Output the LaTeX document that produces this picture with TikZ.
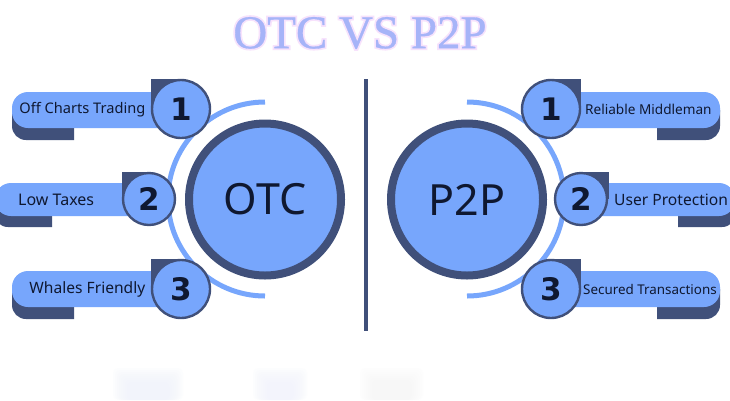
\documentclass[tikz,border=0pt]{standalone}
\usepackage{fontspec}
\setmainfont{Noto Sans}
\newfontfamily\titlefont[FakeBold=0.7]{Liberation Serif}
\newfontfamily\titleglow[FakeBold=8]{Liberation Serif}
\newfontfamily\numfont{DejaVu Sans Bold}
\definecolor{cblue}{HTML}{77A6FC}
\definecolor{cdark}{HTML}{40507A}
\definecolor{cink}{HTML}{0F1830}
\definecolor{ctitle}{HTML}{A6B4F8}
\definecolor{cglow}{HTML}{F7E2FC}
\definecolor{pa}{HTML}{F0F4FB}
\definecolor{pb}{HTML}{F2F4FC}
\definecolor{pc}{HTML}{F7F7F7}
\tikzset{
  x=1pt,y=-1pt,
  bigdisc/.style={circle,draw=cdark,line width=8pt,fill=cblue,minimum size=152pt,inner sep=0pt,text=cink,font=\fontsize{43}{43}\selectfont},
  badgeL/.style={circle,draw=cdark,line width=2.4pt,fill=cblue,minimum size=58pt,inner sep=0pt,text=cink,font=\numfont\fontsize{31}{31}\selectfont},
  badgeS/.style={badgeL,minimum size=52pt},
  lab/.style={text=cink,inner sep=0pt},
  sweep/.style={draw=cblue,line width=5pt},
  barfill/.style={fill=cblue},
  shadowfill/.style={fill=cdark},
  rc/.style={rounded corners=16pt}
}
\begin{document}
\begin{tikzpicture}
\useasboundingbox (0,0) rectangle (730,400);
\fill[white] (0,0) rectangle (730,400);
% faint blurred patches
\foreach \a/\b/\c in {113/183/pa,253/307/pb,360/423/pc}{
  \foreach \i in {0,2,...,14}{
    \fill[color=\c,opacity=0.16,rounded corners=5pt] (\a+\i,368+\i) rectangle (\b-\i,400);
  }
}
% title
\node[text=cglow,font=\titleglow\fontsize{47}{47}\selectfont,inner sep=0pt] (tglow) at (360,33) {OTC VS P2P};
\node[text=ctitle,font=\titlefont\fontsize{47}{47}\selectfont,inner sep=0pt] (title) at (360,33) {OTC VS P2P};
% divider
\fill[cdark] (364,79) rectangle (368,331);
% sweeps
\draw[sweep] (265,102) arc[start angle=90,end angle=270,radius=97pt];
\draw[sweep] (467,102) arc[start angle=90,end angle=-90,radius=97pt];
% discs
\node[bigdisc] (otc) at (265,199.5) {OTC};
\node[bigdisc] (p2p) at (467,199.5) {P2P};
% left items
\fill[shadowfill] (74,110) -- (12,110) [rounded corners=14pt] -- (12,140) [sharp corners] -- (74,140) -- cycle;
\fill[barfill,rc] (181,92) -- (12,92) -- (12,128) -- (181,128);
\fill[cdark] (151,79) rectangle (181,109);
\node[badgeL] (l1) at (181,109) {1};
\node[lab,anchor=east,font=\fontsize{14.6}{15}\selectfont] (l1t) at (145.5,110) {Off Charts Trading};

\fill[shadowfill] (52,200) -- (-6,200) [rounded corners=14pt] -- (-6,227) [sharp corners] -- (52,227) -- cycle;
\fill[barfill,rc] (149,183) -- (-5,183) -- (-5,216) -- (149,216);
\fill[cdark] (122,172) rectangle (149,199);
\node[badgeS] (l2) at (149,199) {2};
\node[lab,anchor=west,font=\fontsize{16}{16}\selectfont] (l2t) at (18,200) {Low Taxes};

\fill[shadowfill] (74,289) -- (12,289) [rounded corners=14pt] -- (12,319) [sharp corners] -- (74,319) -- cycle;
\fill[barfill,rc] (181,271) -- (12,271) -- (12,307) -- (181,307);
\fill[cdark] (151,259) rectangle (181,289);
\node[badgeL] (l3) at (181,289) {3};
\node[lab,anchor=east,font=\fontsize{15.6}{16}\selectfont] (l3t) at (145.5,289) {Whales Friendly};
% right items
\fill[shadowfill] (657,110) -- (720,110) [rounded corners=14pt] -- (720,140) [sharp corners] -- (657,140) -- cycle;
\fill[barfill,rc] (551,92) -- (720,92) -- (720,128) -- (551,128);
\fill[cdark] (551,79) rectangle (581,109);
\node[badgeL] (r1) at (551,109) {1};
\node[lab,anchor=west,font=\fontsize{13.6}{14}\selectfont] (r1t) at (585,109.5) {Reliable Middleman};

\fill[shadowfill] (678,200) -- (736,200) [rounded corners=14pt] -- (736,227) [sharp corners] -- (678,227) -- cycle;
\fill[barfill,rc] (581,183) -- (735,183) -- (735,216) -- (581,216);
\fill[cdark] (581,172) rectangle (608.5,199);
\node[badgeS] (r2) at (581,199) {2};
\node[lab,anchor=west,font=\fontsize{15.6}{16}\selectfont] (r2t) at (614,199.5) {User Protection};

\fill[shadowfill] (657,289) -- (720,289) [rounded corners=14pt] -- (720,319) [sharp corners] -- (657,319) -- cycle;
\fill[barfill,rc] (551,271) -- (720,271) -- (720,307) -- (551,307);
\fill[cdark] (551,259) rectangle (581,289);
\node[badgeL] (r3) at (551,289) {3};
\node[lab,anchor=west,font=\fontsize{13.4}{14}\selectfont] (r3t) at (583,289.5) {Secured Transactions};
\end{tikzpicture}
\end{document}
